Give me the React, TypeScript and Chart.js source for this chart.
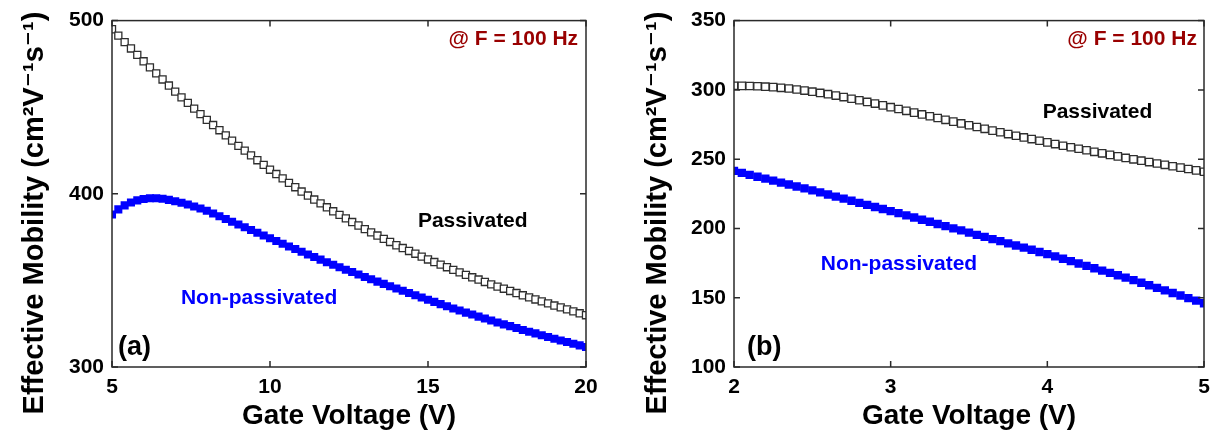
import React, { useEffect, useRef } from 'react';
import { Chart, registerables } from 'chart.js';

Chart.register(...registerables);

// ---------- Panel (a): 5–20 V ----------
const voltageA = [
  5.0, 5.2, 5.4, 5.6, 5.8, 6.0, 6.2, 6.4, 6.6, 6.8, 7.0, 7.2, 7.4, 7.6, 7.8, 8.0,
  8.2, 8.4, 8.6, 8.8, 9.0, 9.2, 9.4, 9.6, 9.8, 10.0, 10.2, 10.4, 10.6, 10.8, 11.0,
  11.2, 11.4, 11.6, 11.8, 12.0, 12.2, 12.4, 12.6, 12.8, 13.0, 13.2, 13.4, 13.6, 13.8,
  14.0, 14.2, 14.4, 14.6, 14.8, 15.0, 15.2, 15.4, 15.6, 15.8, 16.0, 16.2, 16.4, 16.6,
  16.8, 17.0, 17.2, 17.4, 17.6, 17.8, 18.0, 18.2, 18.4, 18.6, 18.8, 19.0, 19.2, 19.4,
  19.6, 19.8, 20.0,
];
const passivatedA = [
  495.0, 491.3, 487.6, 483.9, 480.2, 476.5,
  473.0, 469.5, 466.0, 462.5, 459.0,
  455.7, 452.5, 449.2, 446.0, 442.7,
  439.7, 436.7, 433.7, 430.7, 427.7,
  424.9, 422.2, 419.4, 416.7, 413.9,
  411.4, 408.9, 406.3, 403.8, 401.3,
  399.0, 396.7, 394.5, 392.2, 389.9,
  387.8, 385.8, 383.7, 381.7, 379.6,
  377.7, 375.9, 374.0, 372.2, 370.3,
  368.7, 367.0, 365.4, 363.7, 362.1,
  360.6, 359.1, 357.6, 356.1, 354.6,
  353.2, 351.8, 350.5, 349.1, 347.7,
  346.4, 345.2, 343.9, 342.7, 341.4,
  340.2, 339.0, 337.9, 336.7, 335.5,
  334.4, 333.3, 332.1, 331.0, 329.9,
];
const nonPassivatedA = [
  388.0, 391.0, 393.3, 395.0, 396.2, 397.0,
  397.4, 397.4, 397.1, 396.5, 395.7,
  394.8, 393.8, 392.7, 391.5, 390.2,
  388.6, 387.0, 385.5, 383.9, 382.3,
  380.7, 379.1, 377.5, 375.9, 374.3,
  372.7, 371.2, 369.6, 368.1, 366.5,
  365.0, 363.5, 362.0, 360.5, 359.0,
  357.6, 356.2, 354.8, 353.4, 352.0,
  350.7, 349.3, 348.0, 346.6, 345.3,
  344.0, 342.7, 341.4, 340.1, 338.8,
  337.6, 336.3, 335.1, 333.8, 332.6,
  331.4, 330.3, 329.1, 328.0, 326.8,
  325.7, 324.6, 323.6, 322.5, 321.4,
  320.4, 319.4, 318.3, 317.3, 316.3,
  315.3, 314.4, 313.4, 312.5, 311.5,
];
const xTicksA = [5, 10, 15, 20];
const yTicksA = [300, 400, 500];

// ---------- Panel (b): 2–5 V ----------
const voltageB = [
  2.0, 2.05, 2.1, 2.15, 2.2, 2.25, 2.3, 2.35, 2.4, 2.45, 2.5, 2.55, 2.6, 2.65, 2.7,
  2.75, 2.8, 2.85, 2.9, 2.95, 3.0, 3.05, 3.1, 3.15, 3.2, 3.25, 3.3, 3.35, 3.4, 3.45,
  3.5, 3.55, 3.6, 3.65, 3.7, 3.75, 3.8, 3.85, 3.9, 3.95, 4.0, 4.05, 4.1, 4.15, 4.2,
  4.25, 4.3, 4.35, 4.4, 4.45, 4.5, 4.55, 4.6, 4.65, 4.7, 4.75, 4.8, 4.85, 4.9, 4.95,
  5.0,
];
const passivatedB = [
  303.0, 302.9, 302.8, 302.6, 302.3, 302.0, 301.5, 301.0, 300.3, 299.5,
  298.7, 297.8, 296.9, 295.9, 294.8, 293.6, 292.5, 291.3, 290.1, 288.8,
  287.5, 286.2, 284.9, 283.6, 282.3, 281.0, 279.7, 278.4, 277.1, 275.8,
  274.5, 273.2, 271.9, 270.6, 269.4, 268.1, 266.9, 265.7, 264.5, 263.3,
  262.1, 260.9, 259.7, 258.6, 257.5, 256.4, 255.3, 254.2, 253.1, 252.0,
  250.9, 249.9, 248.9, 247.9, 246.9, 245.9, 244.9, 243.9, 242.9, 241.9,
  240.9,
];
const nonPassivatedB = [
  241.5, 240.1, 238.7, 237.3, 235.9, 234.5, 233.1, 231.7, 230.3, 228.9,
  227.5, 226.0, 224.5, 223.0, 221.5, 220.0, 218.5, 217.0, 215.5, 214.0,
  212.5, 211.0, 209.4, 207.9, 206.3, 204.8, 203.2, 201.7, 200.1, 198.6,
  197.0, 195.4, 193.9, 192.3, 190.8, 189.2, 187.7, 186.1, 184.6, 183.0,
  181.5, 179.8, 178.1, 176.4, 174.7, 173.0, 171.3, 169.6, 167.9, 166.2,
  164.5, 162.7, 160.8, 159.0, 157.1, 155.3, 153.4, 151.6, 149.7, 147.9,
  146.0,
];
const xTicksB = [2, 3, 4, 5];
const yTicksB = [100, 150, 200, 250, 300, 350];

const X_TITLE = 'Gate Voltage (V)';
const Y_TITLE = 'Effective Mobility (cm²V⁻¹s⁻¹)';
const FREQ_LABEL = '@ F = 100 Hz';
const PASS_LABEL = 'Passivated';
const NONPASS_LABEL = 'Non-passivated';

const FONT = '"Liberation Sans", Arial, "DejaVu Sans", sans-serif';
const BLUE = '#0000ff';
const DARKRED = '#990000';

const framePlugin = {
  id: 'frameAndNotes',
  afterDatasetsDraw(chart: any, _args: any, opts: any) {
    const { ctx, chartArea, scales } = chart;
    const { left, right, top, bottom } = chartArea;
    const xs = scales.x;
    const ys = scales.y;
    ctx.save();
    ctx.strokeStyle = '#2a2a2a';
    ctx.lineWidth = 1.5;
    ctx.strokeRect(left, top, right - left, bottom - top);
    const tl = 6;
    ctx.beginPath();
    xs.ticks.forEach((t: any) => {
      const px = xs.getPixelForValue(t.value);
      ctx.moveTo(px, bottom);
      ctx.lineTo(px, bottom - tl);
      ctx.moveTo(px, top);
      ctx.lineTo(px, top + tl);
    });
    ys.ticks.forEach((t: any) => {
      const py = ys.getPixelForValue(t.value);
      ctx.moveTo(left, py);
      ctx.lineTo(left + tl, py);
      ctx.moveTo(right, py);
      ctx.lineTo(right - tl, py);
    });
    ctx.stroke();

    (opts.notes || []).forEach((n: any) => {
      ctx.font = `bold ${n.size}px ${FONT}`;
      ctx.fillStyle = n.color;
      ctx.textAlign = n.align;
      ctx.textBaseline = 'middle';
      ctx.fillText(n.text, xs.getPixelForValue(n.x), ys.getPixelForValue(n.y));
    });

    // rotated y-axis title
    const yt = opts.yTitle;
    ctx.translate(yt.x, yt.y);
    ctx.rotate(-Math.PI / 2);
    ctx.font = `bold ${yt.size}px ${FONT}`;
    ctx.fillStyle = '#000';
    ctx.textAlign = 'center';
    ctx.textBaseline = 'alphabetic';
    ctx.fillText(Y_TITLE, 0, 0);
    ctx.restore();
  },
};

function makeConfig(p: any) {
  return {
    type: 'scatter',
    data: {
      datasets: [
        {
          label: PASS_LABEL,
          data: p.xs.map((x: number, i: number) => ({ x, y: p.pass[i] })),
          pointStyle: 'rect',
          pointRadius: p.passRadius,
          backgroundColor: '#ffffff',
          borderColor: '#2e2e2e',
          borderWidth: 1.3,
          showLine: false,
          clip: 0,
        },
        {
          label: NONPASS_LABEL,
          data: p.xs.map((x: number, i: number) => ({ x, y: p.nonpass[i] })),
          pointStyle: 'rect',
          pointRadius: p.nonRadius,
          backgroundColor: BLUE,
          borderColor: BLUE,
          borderWidth: 0,
          showLine: false,
          clip: 0,
        },
      ],
    },
    options: {
      responsive: false,
      animation: false,
      events: [],
      layout: { padding: { top: 17, right: p.padRight, bottom: 0, left: 0 } },
      plugins: {
        legend: { display: false },
        tooltip: { enabled: false },
        frameAndNotes: { notes: p.notes, yTitle: p.yTitle },
      },
      scales: {
        x: {
          type: 'linear',
          min: p.xMin,
          max: p.xMax,
          afterBuildTicks: (s: any) => {
            s.ticks = p.xTicks.map((v: number) => ({ value: v }));
          },
          afterFit: (s: any) => {
            s.height = 72;
          },
          grid: { display: false, drawTicks: false },
          border: { display: false },
          ticks: {
            font: { family: FONT, size: 21, weight: 'bold' },
            color: '#000',
            padding: 8,
            maxRotation: 0,
            callback: (v: any) => String(v),
          },
          title: {
            display: true,
            text: X_TITLE,
            font: { family: FONT, size: 28, weight: 'bold' },
            color: '#000',
            padding: { top: 0, bottom: 6 },
          },
        },
        y: {
          type: 'linear',
          min: p.yMin,
          max: p.yMax,
          afterBuildTicks: (s: any) => {
            s.ticks = p.yTicks.map((v: number) => ({ value: v }));
          },
          afterFit: (s: any) => {
            s.width = p.yWidth;
          },
          grid: { display: false, drawTicks: false },
          border: { display: false },
          ticks: {
            font: { family: FONT, size: 21, weight: 'bold' },
            color: '#000',
            padding: 8,
            callback: (v: any) => String(v),
          },
        },
      },
    },
    plugins: [framePlugin],
  };
}

export default function App() {
  const refA = useRef<HTMLCanvasElement>(null);
  const refB = useRef<HTMLCanvasElement>(null);

  useEffect(() => {
    const chartA = new Chart(
      refA.current as HTMLCanvasElement,
      makeConfig({
        xs: voltageA,
        pass: passivatedA,
        nonpass: nonPassivatedA,
        xMin: 5,
        xMax: 20,
        xTicks: xTicksA,
        yMin: 300,
        yMax: 500,
        yTicks: yTicksA,
        yWidth: 112,
        padRight: 25,
        passRadius: 5,
        nonRadius: 5.7,
        yTitle: { x: 43, y: 213, size: 29 },
        notes: [
          { text: FREQ_LABEL, x: 19.75, y: 489, align: 'right', color: DARKRED, size: 21 },
          { text: PASS_LABEL, x: 14.68, y: 384, align: 'left', color: '#000', size: 21 },
          { text: NONPASS_LABEL, x: 7.18, y: 340, align: 'left', color: BLUE, size: 21 },
          { text: '(a)', x: 5.19, y: 311.4, align: 'left', color: '#000', size: 27 },
        ],
      }) as any
    );
    const chartB = new Chart(
      refB.current as HTMLCanvasElement,
      makeConfig({
        xs: voltageB,
        pass: passivatedB,
        nonpass: nonPassivatedB,
        xMin: 2,
        xMax: 5,
        xTicks: xTicksB,
        yMin: 100,
        yMax: 350,
        yTicks: yTicksB,
        yWidth: 123,
        padRight: 18,
        passRadius: 5.2,
        nonRadius: 5.9,
        yTitle: { x: 55, y: 213, size: 29 },
        notes: [
          { text: FREQ_LABEL, x: 4.955, y: 336.4, align: 'right', color: DARKRED, size: 21 },
          { text: PASS_LABEL, x: 3.97, y: 283.6, align: 'left', color: '#000', size: 21 },
          { text: NONPASS_LABEL, x: 2.554, y: 174.3, align: 'left', color: BLUE, size: 21 },
          { text: '(b)', x: 2.083, y: 114.3, align: 'left', color: '#000', size: 27 },
        ],
      }) as any
    );
    return () => {
      chartA.destroy();
      chartB.destroy();
    };
  }, []);

  return (
    <div
      style={{
        position: 'absolute',
        left: 0,
        top: 0,
        width: 1222,
        height: 439,
        background: '#ffffff',
      }}
    >
      <canvas
        ref={refA}
        width={611}
        height={439}
        style={{ position: 'absolute', left: 0, top: 0, width: 611, height: 439 }}
      />
      <canvas
        ref={refB}
        width={611}
        height={439}
        style={{ position: 'absolute', left: 611, top: 0, width: 611, height: 439 }}
      />
    </div>
  );
}
